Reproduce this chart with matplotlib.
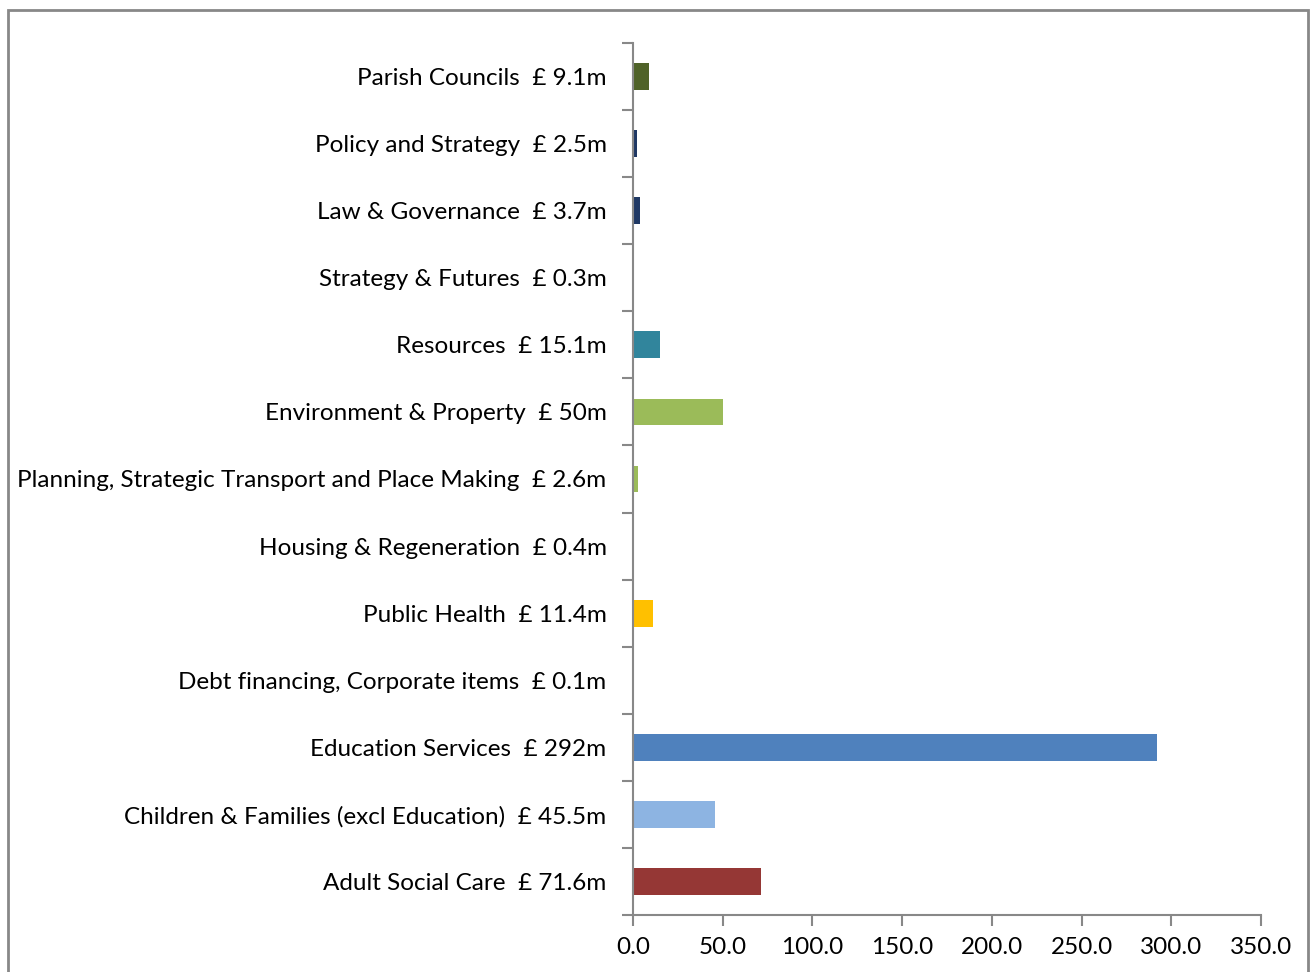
import matplotlib.pyplot as plt
from matplotlib.patches import Rectangle
import numpy as np

plt.rcParams['font.family'] = ['Lato', 'DejaVu Sans']

# bottom to top, as drawn
services = ["Adult Social Care", "Children & Families (excl Education)", "Education Services",
            "Debt financing, Corporate items", "Public Health", "Housing & Regeneration",
            "Planning, Strategic Transport and Place Making", "Environment & Property",
            "Resources", "Strategy & Futures", "Law & Governance", "Policy and Strategy",
            "Parish Councils"]
amount_labels = ["71.6", "45.5", "292", "0.1", "11.4", "0.4", "2.6", "50", "15.1",
                 "0.3", "3.7", "2.5", "9.1"]
spend = [71.6, 45.5, 292, 0.1, 11.4, 0.4, 2.6, 50, 15.1, 0.3, 3.7, 2.5, 9.1]
colours = ["#953735", "#8DB4E2", "#4F81BD", "#4F81BD", "#FFC000", "#9BBB59", "#9BBB59",
           "#9BBB59", "#31859C", "#1F3864", "#1F3864", "#1F3864", "#4F6228"]

labels = [s + "  £ " + a + "m" for s, a in zip(services, amount_labels)]

fig = plt.figure(figsize=(13.1, 9.72), dpi=100)
ax = fig.add_axes([633 / 1310, 1 - 915 / 972, (1261 - 633) / 1310, (915 - 43) / 972])

y = np.arange(len(services))
ax.barh(y, spend, height=0.4, color=colours)

ax.set_xlim(0, 350)
ax.set_ylim(-0.5, len(services) - 0.5)
ax.set_xticks(np.arange(0, 351, 50))
ax.set_xticklabels([f"{v:.1f}" for v in np.arange(0, 351, 50)], fontsize=17.5)
ax.set_yticks(y)
ax.set_yticklabels(labels, fontsize=17.5)
ax.set_yticks(np.arange(-0.5, len(services), 1), minor=True)

ax.tick_params(axis='y', which='major', length=0, pad=19)
ax.tick_params(axis='y', which='minor', length=8, width=1.5, color="#888888")
ax.tick_params(axis='x', length=8, width=1.5, color="#888888", pad=8)

for side in ['top', 'right']:
    ax.spines[side].set_visible(False)
for side in ['left', 'bottom']:
    ax.spines[side].set_color("#888888")
    ax.spines[side].set_linewidth(1.5)

fig.patches.append(Rectangle((8 / 1310, -0.02), 1300 / 1310, 1 - 10 / 972 + 0.02,
                             transform=fig.transFigure, fill=False,
                             edgecolor="#888888", linewidth=2))

fig.savefig("out.png", dpi=100)
